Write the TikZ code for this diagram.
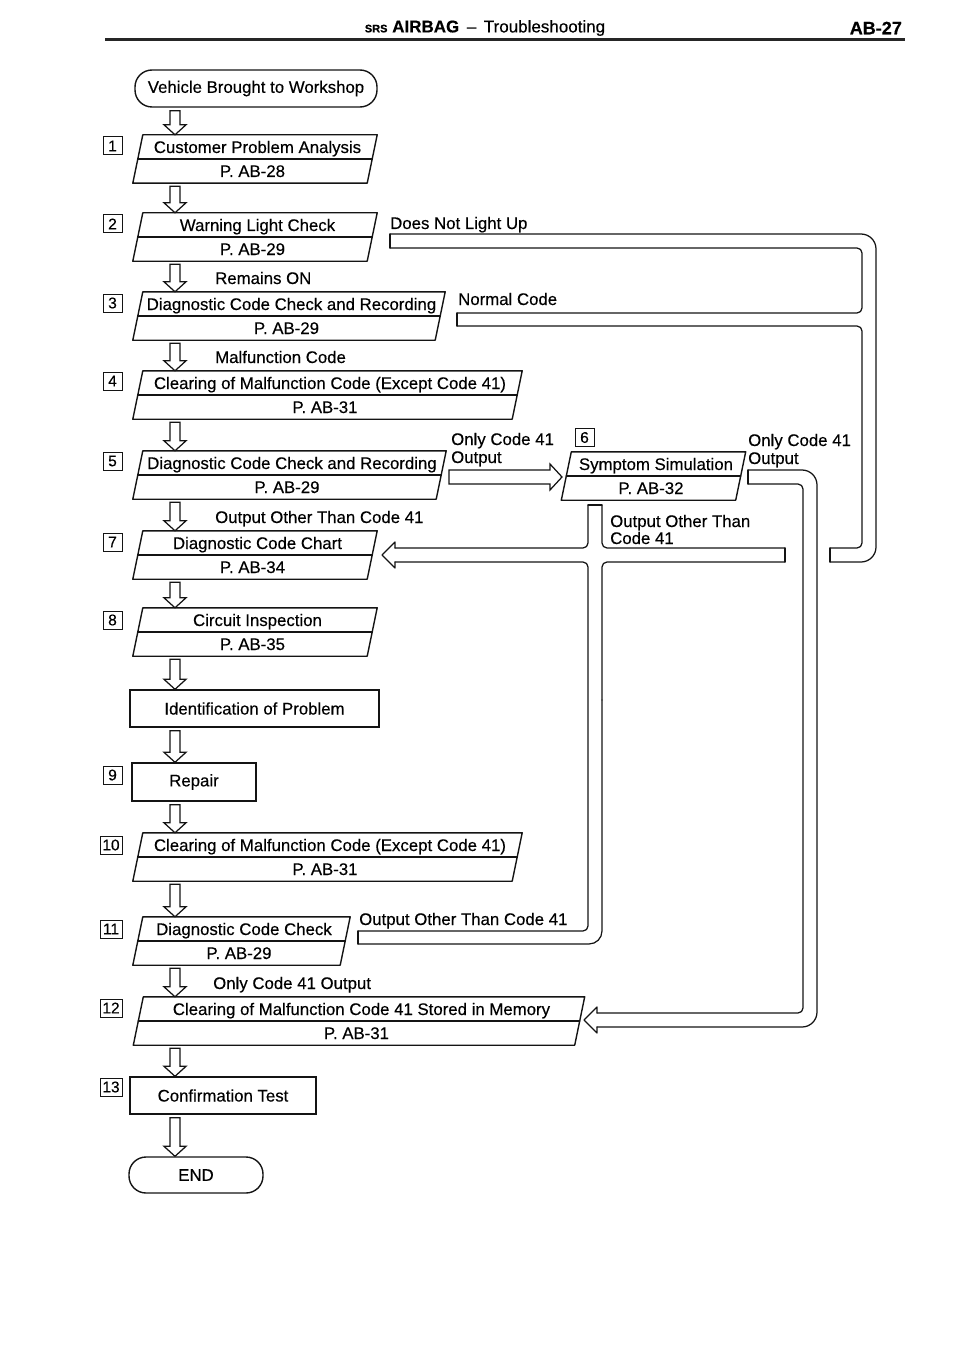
\documentclass[tikz,border=0pt]{standalone}
\usepackage{fontspec}
\setmainfont{Liberation Sans}[FakeBold=0.35]
\usetikzlibrary{calc}
\newcommand\fs{\fontsize{16.8}{19}\selectfont}
\begin{document}
\begin{tikzpicture}[x=1pt,y=-1pt,
  ink/.style={draw=black!92, line width=1.4pt, line join=round, line cap=round},
  pipe/.style={draw=black!92, line width=1.25pt, line cap=round, line join=round},
  hollow/.style={draw=black!92, line width=1.25pt, line join=miter},
  cellbox/.style={rectangle, inner sep=0pt, minimum height=48pt},
  txt/.style={font=\fs, inner sep=0pt, text height=12pt, text depth=0pt},
  lbl/.style={font=\fs, inner sep=0pt, text height=12pt, text depth=0pt, anchor=west},
  numbox/.style={draw=black!92, line width=1pt, minimum width=19pt, minimum height=18pt, inner sep=0pt, font=\fontsize{15.5}{15.5}\selectfont},
  termbox/.style={draw=black!92, line width=1.4pt, rounded corners=17pt, inner sep=0pt, font=\fs},
  rectbox/.style={draw=black!92, line width=1.4pt, inner sep=0pt, font=\fs},
]
\useasboundingbox (0,0) rectangle (960,1356);
\coordinate (axis) at (175,0);

\newcommand\stepbox[6]{%
  \node[cellbox, minimum width=#4pt] (#1) at (#2,#3+24) {};
  \draw[ink] ($(#1.north west)+(5,0)$) -- ($(#1.north east)+(5,0)$) -- ($(#1.south east)+(-5,0)$) -- ($(#1.south west)+(-5,0)$) -- cycle;
  \draw[ink] (#1.west) -- (#1.east);
  \node[txt] at ($(#1.center)+(2.5,-12)$) {#5};
  \node[txt] at ($(#1.center)+(-2.5,12)$) {#6};
}
\newcommand\flowdown[2]{%
  \draw[hollow] let \p1=(axis |- #1.south), \p2=(axis |- #2.north) in
   (\x1-5pt,\y1-3pt) -- (\x1-5pt,\y2+10pt) -- (\x1-11pt,\y2+10pt) -- (\x1,\y2) --
   (\x1+11pt,\y2+10pt) -- (\x1+5pt,\y2+10pt) -- (\x1+5pt,\y1-3pt) -- cycle;
}

% header
\node[font=\fontsize{17}{17}\selectfont, inner sep=0pt] (hdr) at (485,28)
  {{\fontsize{11}{11}\selectfont\bfseries SRS} \textbf{AIRBAG} \,--\, Troubleshooting};
\node[font=\fontsize{18}{18}\selectfont\bfseries, inner sep=0pt, anchor=east] (pg) at (902,28) {AB-27};
\draw[line width=3pt, black!85] (105,40) -- (905,40);

% terminals and rectangles
\node[termbox, minimum width=242pt, minimum height=37pt] (start) at (256,88.5) {Vehicle Brought to Workshop};
\node[rectbox, minimum width=249pt, minimum height=37pt] (ident) at (254.5,708.5) {Identification of Problem};
\node[rectbox, minimum width=124pt, minimum height=38pt] (s9) at (194,782) {Repair};
\node[rectbox, minimum width=186pt, minimum height=37pt] (s13) at (223,1095.5) {Confirmation Test};
\node[termbox, minimum width=134pt, minimum height=36pt] (finish) at (196,1175) {END};

% parallelogram steps
\stepbox{s1}{255}{135}{234}{Customer Problem Analysis}{P. AB-28}
\stepbox{s2}{255}{213}{234}{Warning Light Check}{P. AB-29}
\stepbox{s3}{289}{292}{302}{Diagnostic Code Check and Recording}{P. AB-29}
\stepbox{s4}{327.5}{371}{379}{Clearing of Malfunction Code (Except Code 41)}{P. AB-31}
\stepbox{s5}{289.5}{451}{303}{Diagnostic Code Check and Recording}{P. AB-29}
\stepbox{s6}{653.5}{452}{174}{Symptom Simulation}{P. AB-32}
\stepbox{s7}{255}{531}{234}{Diagnostic Code Chart}{P. AB-34}
\stepbox{s8}{255}{608}{234}{Circuit Inspection}{P. AB-35}
\stepbox{s10}{327.5}{833}{379}{Clearing of Malfunction Code (Except Code 41)}{P. AB-31}
\stepbox{s11}{241.5}{917}{207}{Diagnostic Code Check}{P. AB-29}
\stepbox{s12}{359}{997}{441}{Clearing of Malfunction Code 41 Stored in Memory}{P. AB-31}

% step numbers
\node[numbox] (n1) at (112.5,146) {1};
\node[numbox] (n2) at (112.5,224) {2};
\node[numbox] (n3) at (112.5,303) {3};
\node[numbox] (n4) at (112.5,381) {4};
\node[numbox] (n5) at (112.5,461) {5};
\node[numbox] (n6) at (584.5,437.5) {6};
\node[numbox] (n7) at (112.5,542) {7};
\node[numbox] (n8) at (112.5,620) {8};
\node[numbox] (n9) at (112.5,775) {9};
\node[numbox, minimum width=22pt] (n10) at (111,845) {10};
\node[numbox, minimum width=22pt] (n11) at (111,929) {11};
\node[numbox, minimum width=22pt] (n12) at (111,1008) {12};
\node[numbox, minimum width=22pt] (n13) at (111,1087) {13};

% main down arrows
\flowdown{start}{s1}
\flowdown{s1}{s2}
\flowdown{s2}{s3}
\flowdown{s3}{s4}
\flowdown{s4}{s5}
\flowdown{s5}{s7}
\flowdown{s7}{s8}
\flowdown{s8}{ident}
\flowdown{ident}{s9}
\flowdown{s9}{s10}
\flowdown{s10}{s11}
\flowdown{s11}{s12}
\flowdown{s12}{s13}
\flowdown{s13}{finish}

% labels
\node[lbl] (lDNL) at (390,223) {Does Not Light Up};
\node[lbl] (lRON) at (215,278) {Remains ON};
\node[lbl] (lNC) at (458,299) {Normal Code};
\node[lbl] (lMC) at (215,357) {Malfunction Code};
\node[lbl] (lO41a) at (451,439) {Only Code 41};
\node[lbl] (lO41b) at (451,457) {Output};
\node[lbl] (lO41c) at (748,440) {Only Code 41};
\node[lbl] (lO41d) at (748,458) {Output};
\node[lbl] (lOOa) at (215,517) {Output Other Than Code 41};
\node[lbl] (lOOb) at (610,521) {Output Other Than};
\node[lbl] (lOOc) at (610,538) {Code 41};
\node[lbl] (lOOd) at (359,919) {Output Other Than Code 41};
\node[lbl] (lO41e) at (213,983) {Only Code 41 Output};

% step 5 -> step 6 hollow arrow
\draw[hollow] (449,470) -- (550,470) -- (550,464) -- (562,477) -- (550,490) -- (550,484) -- (449,484) -- cycle;

% pipe A: Does Not Light Up / Normal Code -> step 7
\draw[pipe, rounded corners=15pt] (390,234) -- (876,234) -- (876,562) -- (830,562);
\draw[pipe] (830,562) -- (830,548);
\draw[pipe, rounded corners=5pt] (830,548) -- (862,548) -- (862,326) -- (457,326);
\draw[pipe] (457,326) -- (457,313);
\draw[pipe, rounded corners=5pt] (457,313) -- (862,313) -- (862,248) -- (390,248);
\draw[pipe] (390,248) -- (390,234);

% pipe B: step 6 / step 11 -> step 7
\draw[pipe] (395,548) -- (395,542) -- (382,555) -- (395,568) -- (395,562);
\draw[pipe, rounded corners=5pt] (395,548) -- (588,548) -- (588,505);
\draw[pipe] (588,505) -- (602,505);
\draw[pipe, rounded corners=5pt] (602,505) -- (602,548) -- (785,548);
\draw[pipe] (785,548) -- (785,562);
\draw[pipe, rounded corners=5pt] (785,562) -- (602,562) -- (602,700);
\draw[pipe, rounded corners=13pt] (602,700) -- (602,944) -- (358,944);
\draw[pipe] (358,944) -- (358,931);
\draw[pipe, rounded corners=5pt] (358,931) -- (588,931) -- (588,562) -- (395,562);

% pipe C: step 6 Only Code 41 -> step 12
\draw[pipe, rounded corners=15pt] (748,470) -- (817,470) -- (817,1027) -- (597,1027);
\draw[pipe] (597,1027) -- (597,1033) -- (584,1020) -- (597,1007) -- (597,1013);
\draw[pipe, rounded corners=5pt] (597,1013) -- (803,1013) -- (803,484) -- (748,484);
\draw[pipe] (748,484) -- (748,470);
\end{tikzpicture}
\end{document}
